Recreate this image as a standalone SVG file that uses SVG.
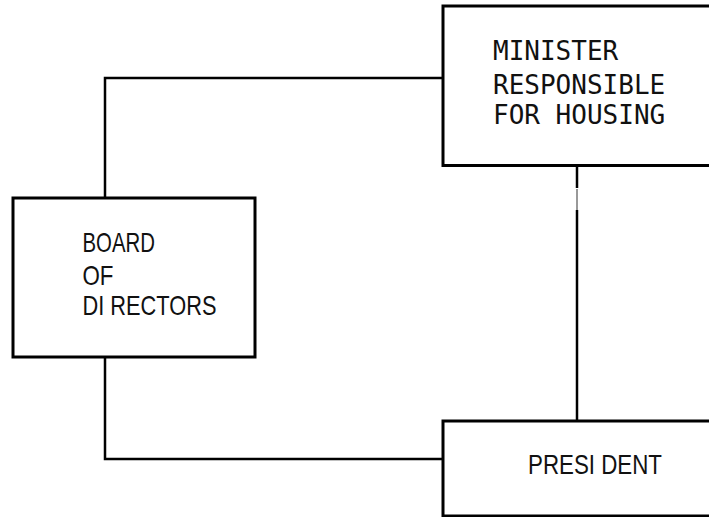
<svg xmlns="http://www.w3.org/2000/svg" width="709" height="517" viewBox="0 0 709 517">
<style>
.box{fill:#fff;stroke:#000;stroke-width:3}
.con{fill:none;stroke:#000;stroke-width:2.5}
.mono{font-family:"DejaVu Sans Mono","Liberation Mono",monospace;font-size:26px;fill:#111}
.cond{font-family:"Liberation Sans",Arial,sans-serif;font-size:27.5px;fill:#111}
</style>
<rect width="709" height="517" fill="#fff"/>
<g id="connectors">
<polyline class="con" points="105,198 105,78 443,78"/>
<polyline class="con" points="105,357 105,459 443,459"/>
<line class="con" x1="577" y1="165" x2="577" y2="188"/>
<line x1="577" y1="189" x2="577" y2="210" stroke="#999" stroke-width="2"/>
<line class="con" x1="577" y1="210" x2="577" y2="421"/>
</g>
<g id="minister">
<rect class="box" x="443" y="6" width="280" height="159.5"/>
<text class="mono" x="493" y="60">MINISTER</text>
<text class="mono" x="493" y="94">RESPONSIBLE</text>
<text class="mono" x="493" y="124">FOR HOUSING</text>
</g>
<g id="board">
<rect class="box" x="13" y="198" width="242" height="159"/>
<text class="cond" x="82.5" y="252" textLength="72.5" lengthAdjust="spacingAndGlyphs">BOARD</text>
<text class="cond" x="82.5" y="285" textLength="31" lengthAdjust="spacingAndGlyphs">OF</text>
<text class="cond" x="82.5" y="315" textLength="134" lengthAdjust="spacingAndGlyphs">DI RECTORS</text>
</g>
<g id="president">
<rect class="box" x="443" y="421" width="280" height="95"/>
<text class="cond" x="528" y="474" textLength="134" lengthAdjust="spacingAndGlyphs">PRESI DENT</text>
</g>
</svg>
